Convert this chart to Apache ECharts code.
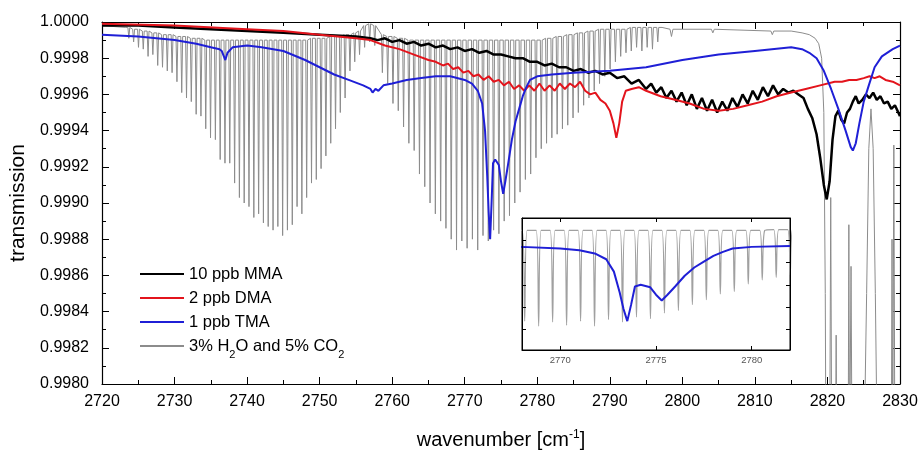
<!DOCTYPE html>
<html>
<head>
<meta charset="utf-8">
<script src="https://cdn.jsdelivr.net/npm/echarts@6/dist/echarts.min.js"></script>
<style>
  html, body { margin: 0; background: #fff; }
  #chart { width: 919px; height: 450px; }
</style>
</head>
<body>
<div id="chart"></div>
<script>
// --- data ---
const mmaX = [2720, 2725, 2730, 2735, 2740, 2745, 2750, 2755, 2757, 2758, 2759, 2760, 2761, 2762, 2763, 2764, 2765, 2766, 2767, 2768, 2769, 2770, 2771, 2772, 2773, 2774, 2775, 2776, 2777, 2778, 2779, 2780, 2781, 2782, 2783, 2784, 2785, 2786, 2787, 2788, 2789, 2790, 2791, 2792, 2793, 2794, 2795, 2795.7, 2796.4, 2797.1, 2797.8, 2798.5, 2799.2, 2799.9, 2800.6, 2801.3, 2802.0, 2802.7, 2803.4, 2804.1, 2804.8, 2805.5, 2806.2, 2806.9, 2807.6, 2808.3, 2809.0, 2809.7, 2810.4, 2811.1, 2811.8, 2812.5, 2813.2, 2813.9, 2814.6, 2815.3, 2816.0, 2816.7, 2817.3, 2817.9, 2818.5, 2819.0, 2819.5, 2819.9, 2820.3, 2820.7, 2821.1, 2821.5, 2821.9, 2822.3, 2822.7, 2823.1, 2823.5, 2823.9, 2824.3, 2824.8, 2825.3, 2825.8, 2826.3, 2826.8, 2827.3, 2827.8, 2828.3, 2828.8, 2829.3, 2830];
const mmaY = [0.99998, 0.99998, 0.99997, 0.99996, 0.99995, 0.99994, 0.99993, 0.99992, 0.99991, 0.99990, 0.99991, 0.99989, 0.99990, 0.99988, 0.99989, 0.99987, 0.99988, 0.99986, 0.99987, 0.99985, 0.99986, 0.99984, 0.99985, 0.99983, 0.99984, 0.99982, 0.99982, 0.99981, 0.99980, 0.99980, 0.99978, 0.99978, 0.99976, 0.99977, 0.99975, 0.99975, 0.99973, 0.99974, 0.99972, 0.99973, 0.99971, 0.99972, 0.99969, 0.99970, 0.99966, 0.99968, 0.99963, 0.99966, 0.99961, 0.99964, 0.99958, 0.99962, 0.99956, 0.99961, 0.99954, 0.99960, 0.99952, 0.99958, 0.99951, 0.99957, 0.99950, 0.99956, 0.99951, 0.99958, 0.99953, 0.99960, 0.99955, 0.99962, 0.99957, 0.99964, 0.99959, 0.99965, 0.99960, 0.99963, 0.99961, 0.99962, 0.99960, 0.99958, 0.99952, 0.99947, 0.99938, 0.99925, 0.99910, 0.99902, 0.99912, 0.99935, 0.99948, 0.99951, 0.99946, 0.99944, 0.99950, 0.99952, 0.99956, 0.99959, 0.99955, 0.99957, 0.99960, 0.99958, 0.99961, 0.99957, 0.99959, 0.99955, 0.99956, 0.99952, 0.99954, 0.99948];

const dmaX = [2720, 2730, 2740, 2745, 2750, 2755, 2757, 2759, 2761, 2763, 2765, 2766, 2767, 2767.7, 2768.4, 2769.1, 2769.8, 2770.5, 2771.2, 2771.9, 2772.6, 2773.3, 2774.0, 2774.7, 2775.4, 2776.1, 2776.8, 2777.5, 2778.2, 2778.9, 2779.6, 2780.3, 2781.0, 2781.7, 2782.4, 2783.1, 2783.8, 2784.5, 2785.2, 2785.9, 2786.6, 2787.3, 2788.0, 2788.7, 2789.4, 2790.0, 2790.5, 2790.9, 2791.3, 2791.7, 2792.2, 2793, 2794, 2795, 2797, 2799, 2801, 2803, 2805, 2807, 2809, 2811, 2813, 2815, 2817, 2819, 2821, 2822, 2823, 2824, 2825, 2825.8, 2826.5, 2827.2, 2828, 2829, 2830];
const dmaY = [0.99999, 0.99998, 0.99996, 0.99995, 0.99993, 0.99991, 0.99990, 0.99987, 0.99985, 0.99982, 0.99979, 0.99978, 0.99976, 0.99977, 0.99974, 0.99975, 0.99972, 0.99973, 0.99970, 0.99971, 0.99968, 0.99970, 0.99967, 0.99968, 0.99965, 0.99967, 0.99963, 0.99965, 0.99962, 0.99965, 0.99962, 0.99966, 0.99962, 0.99965, 0.99962, 0.99966, 0.99963, 0.99966, 0.99964, 0.99967, 0.99962, 0.99960, 0.99961, 0.99957, 0.99955, 0.99951, 0.99944, 0.99936, 0.99944, 0.99956, 0.99962, 0.99963, 0.99964, 0.99962, 0.99959, 0.99957, 0.99955, 0.99952, 0.99951, 0.99952, 0.99954, 0.99956, 0.99959, 0.99961, 0.99963, 0.99965, 0.99967, 0.99967, 0.99968, 0.99968, 0.99969, 0.99970, 0.99969, 0.99970, 0.99968, 0.99967, 0.99965];

const tmaX = [2720, 2725, 2730, 2733, 2735, 2736.2, 2736.5, 2736.7, 2737.0, 2737.3, 2738, 2740, 2742, 2745, 2748, 2750, 2752, 2754, 2756, 2757.0, 2757.3, 2757.7, 2758.1, 2758.8, 2760, 2762, 2764, 2766, 2768, 2770, 2771, 2771.8, 2772.4, 2772.8, 2773.1, 2773.3, 2773.5, 2773.7, 2773.9, 2774.2, 2774.7, 2775.0, 2775.3, 2775.6, 2776.0, 2776.5, 2777.0, 2777.5, 2778.0, 2778.5, 2779.0, 2780, 2782, 2785, 2790, 2795, 2800, 2805, 2810, 2815, 2816.5, 2817.5, 2818.5, 2819.5, 2820.5, 2821.5, 2822.5, 2823.2, 2823.5, 2823.9, 2824.4, 2825, 2825.7, 2826.5, 2827.5, 2829, 2830];
const tmaY = [0.99993, 0.99992, 0.99990, 0.99988, 0.99986, 0.99985, 0.99984, 0.99985, 0.99979, 0.99983, 0.99986, 0.99987, 0.99986, 0.99984, 0.99979, 0.99975, 0.99971, 0.99968, 0.99965, 0.99963, 0.99961, 0.99963, 0.99962, 0.99965, 0.99966, 0.99968, 0.99969, 0.99970, 0.99970, 0.99968, 0.99966, 0.99962, 0.99955, 0.99940, 0.99915, 0.99895, 0.99880, 0.99900, 0.99922, 0.99924, 0.99921, 0.99912, 0.99905, 0.99912, 0.99922, 0.99935, 0.99945, 0.99952, 0.99959, 0.99964, 0.99968, 0.99970, 0.99971, 0.99972, 0.99973, 0.99975, 0.99979, 0.99982, 0.99984, 0.99986, 0.99985, 0.99983, 0.99980, 0.99973, 0.99963, 0.99952, 0.99940, 0.99931, 0.99929, 0.99933, 0.99944, 0.99956, 0.99965, 0.99975, 0.99981, 0.99985, 0.99987];

// H2O / CO2 absorption lines: centre, bottom of the dip, level between lines
const h2oLineCenter = [2723.70, 2724.36, 2725.03, 2725.69, 2726.35, 2727.01, 2727.68, 2728.34, 2729.00, 2729.66, 2730.33, 2730.99, 2731.65, 2732.31, 2732.98, 2733.64, 2734.30, 2734.96, 2735.63, 2736.29, 2736.95, 2737.61, 2738.28, 2738.94, 2739.60, 2740.26, 2740.93, 2741.59, 2742.25, 2742.91, 2743.58, 2744.24, 2744.90, 2745.56, 2746.23, 2746.89, 2747.55, 2748.21, 2748.88, 2749.54, 2750.20, 2750.86, 2751.53, 2752.19, 2752.85, 2753.51, 2754.18, 2754.84, 2755.50,
  2756.20, 2756.90, 2757.60,
  2758.65, 2759.38, 2760.11, 2760.84, 2761.57, 2762.30, 2763.03, 2763.76, 2764.49, 2765.22, 2765.95, 2766.68, 2767.41, 2768.14, 2768.87, 2769.60, 2770.33, 2771.06, 2771.79, 2772.52, 2773.25, 2773.98, 2774.71, 2775.44, 2776.17, 2776.90, 2777.63, 2778.36, 2779.09, 2779.82, 2780.55, 2781.28, 2782.01, 2782.74, 2783.47, 2784.20, 2784.93, 2785.66, 2786.39, 2787.12, 2787.85, 2788.58, 2789.31, 2790.04, 2790.77, 2791.50, 2792.23, 2792.96, 2793.69, 2794.42, 2795.15, 2795.88, 2796.61];
const h2oLineMin = [0.99991, 0.99989, 0.99986, 0.99985, 0.99981, 0.99982, 0.99976, 0.99975, 0.99973, 0.99972, 0.99967, 0.99961, 0.99958, 0.99956, 0.99949, 0.99948, 0.99941, 0.99936, 0.99935, 0.99924, 0.99922, 0.99922, 0.99911, 0.99903, 0.99900, 0.99898, 0.99892, 0.99894, 0.99889, 0.99887, 0.99885, 0.99887, 0.99882, 0.99885, 0.99888, 0.99898, 0.99894, 0.99903, 0.99911, 0.99913, 0.99919, 0.99926, 0.99933, 0.99941, 0.99950, 0.99958, 0.99973, 0.99978, 0.99982,
  0.99986, 0.99989, 0.99987,
  0.99972, 0.99966, 0.99955, 0.99951, 0.99942, 0.99933, 0.99929, 0.99916, 0.99909, 0.99900, 0.99894, 0.99890, 0.99886, 0.99880, 0.99874, 0.99879, 0.99875, 0.99880, 0.99874, 0.99882, 0.99879, 0.99885, 0.99883, 0.99890, 0.99893, 0.99900, 0.99906, 0.99913, 0.99916, 0.99925, 0.99930, 0.99933, 0.99936, 0.99938, 0.99941, 0.99943, 0.99947, 0.99950, 0.99954, 0.99958, 0.99962, 0.99966, 0.99970, 0.99974, 0.99978, 0.99981, 0.99983, 0.99984, 0.99986, 0.99984, 0.99986, 0.99985, 0.99989];
const h2oLineCeil = [0.99997, 0.99996, 0.99996, 0.99995, 0.99995, 0.99994, 0.99994, 0.99993, 0.99993, 0.99993, 0.99992, 0.99992, 0.99992, 0.99991, 0.99991, 0.99991, 0.99990, 0.99990, 0.99990, 0.99990, 0.99990, 0.99990, 0.99990, 0.99990, 0.99990, 0.99990, 0.99990, 0.99990, 0.99990, 0.99990, 0.99990, 0.99990, 0.99990, 0.99990, 0.99990, 0.99990, 0.99990, 0.99990, 0.99991, 0.99991, 0.99991, 0.99991, 0.99992, 0.99992, 0.99992, 0.99993, 0.99993, 0.99994, 0.99995,
  0.99998, 0.99999, 0.99998,
  0.99993, 0.99992, 0.99992, 0.99991, 0.99991, 0.99990, 0.99990, 0.99990, 0.99990, 0.99990, 0.99990, 0.99990, 0.99990, 0.99990, 0.99990, 0.99990, 0.99990, 0.99990, 0.99990, 0.99990, 0.99990, 0.99990, 0.99990, 0.99990, 0.99990, 0.99990, 0.99990, 0.99990, 0.99990, 0.99990, 0.99990, 0.99991, 0.99991, 0.99992, 0.99992, 0.99993, 0.99993, 0.99994, 0.99994, 0.99995, 0.99995, 0.99996, 0.99996, 0.99996, 0.99996, 0.99996, 0.99996, 0.99997, 0.99997, 0.99997, 0.99997, 0.99997, 0.99997];
const h2oHeadX = [2720, 2723.2];
const h2oHeadY = [0.99998, 0.99997];
const h2oTailX = [2797.2, 2798.3, 2798.5, 2798.7, 2804.0, 2804.2, 2804.4, 2812.2, 2812.4, 2812.6, 2815, 2816.5, 2817.5, 2818.3, 2818.8, 2819.2, 2819.5, 2819.7, 2819.8, 2820.3, 2820.45, 2820.6, 2821.1, 2821.2, 2821.3, 2822.85, 2822.95, 2823.05, 2823.25, 2823.4, 2825.0, 2825.4, 2825.7, 2826.0, 2826.3, 2826.6, 2826.9, 2828.8, 2828.9, 2829.0, 2829.15, 2829.3, 2830];
const h2oTailY = [0.99997, 0.99996, 0.99992, 0.99996, 0.99996, 0.99994, 0.99996, 0.99995, 0.99993, 0.99995, 0.99995, 0.99994, 0.99993, 0.99991, 0.99988, 0.99980, 0.99950, 0.99850, 0.99750, 0.99750, 0.99903, 0.99750, 0.99750, 0.99827, 0.99750, 0.99750, 0.99888, 0.99750, 0.99865, 0.99750, 0.99750, 0.99850, 0.99930, 0.99952, 0.99930, 0.99850, 0.99750, 0.99750, 0.99880, 0.99750, 0.99932, 0.99750, 0.99750];

const legendNames = ['10 ppb MMA', '2 ppb DMA', '1 ppb TMA', '3% H2O and 5% CO2'];
const insetXTicks = [2770, 2775, 2780];
const insetYTicks = [0.9987, 0.99897, 0.99924, 0.99951, 0.99978];

// --- build series ---
const FONT = 'Liberation Sans, Arial, sans-serif';
const LINE_HALF = 0.13;
const zip = (xs, ys) => xs.map((x, i) => [x, ys[i]]);

const h2oData = zip(h2oHeadX, h2oHeadY);
h2oLineCenter.forEach((c, i) => {
  h2oData.push([c - LINE_HALF, h2oLineCeil[i]], [c, h2oLineMin[i]], [c + LINE_HALF, h2oLineCeil[i]]);
});
h2oData.push(...zip(h2oTailX, h2oTailY));

const mmaData = zip(mmaX, mmaY);
const dmaData = zip(dmaX, dmaY);
const tmaData = zip(tmaX, tmaY);

const chart = echarts.init(document.getElementById('chart'));

const mainX = {
  type: 'value', min: 2720, max: 2830, interval: 10, gridIndex: 0
};
const mainY = {
  type: 'value', min: 0.998, max: 1.0, interval: 0.0002, gridIndex: 0
};
const frameLine = { show: true, lineStyle: { color: '#000', width: 1.2 } };
const tickIn = { show: true, inside: true, length: 7, lineStyle: { color: '#000', width: 1 } };
const minorIn = { show: true, splitNumber: 2, length: 4, lineStyle: { color: '#000', width: 1 } };

const insetAxisCommon = {
  gridIndex: 1, z: 12,
  axisLine: { show: true, onZero: false, lineStyle: { color: '#000', width: 1 } },
  splitLine: { show: false }
};

const option = {
  animation: false,
  backgroundColor: '#fff',
  textStyle: { fontFamily: FONT },
  grid: [
    { left: 102, right: 19, top: 22, bottom: 66, outerBoundsMode: 'none', containLabel: false },
    { left: 522, right: 129, top: 218, bottom: 100, outerBoundsMode: 'none', containLabel: false,
      show: true, backgroundColor: '#fff', borderColor: '#000', borderWidth: 1, z: 10 }
  ],
  legend: {
    orient: 'vertical', left: 134, top: 260,
    itemWidth: 44, itemHeight: 14, itemGap: 6,
    itemStyle: { opacity: 0 },
    data: legendNames,
    textStyle: {
      fontSize: 16.5, color: '#000', fontFamily: FONT, lineHeight: 18,
      rich: { s: { fontSize: 11, fontFamily: FONT, verticalAlign: 'bottom', lineHeight: 18, padding: [0, 0, -5, 0] } }
    },
    formatter: name => name.replace('H2O', 'H{s|2}O').replace('CO2', 'CO{s|2}')
  },
  xAxis: [
    Object.assign({}, mainX, {
      position: 'bottom',
      axisLine: Object.assign({ onZero: false }, frameLine),
      axisTick: tickIn, minorTick: minorIn, splitLine: { show: false },
      axisLabel: { color: '#000', fontSize: 16, margin: 10, fontFamily: FONT, formatter: v => String(v) },
      name: 'wavenumber [cm{sup|-1}]', nameLocation: 'middle', nameGap: 45,
      nameTextStyle: { color: '#000', fontSize: 20, fontFamily: FONT,
        rich: { sup: { fontSize: 12, fontFamily: FONT, verticalAlign: 'top', padding: [0, 0, 10, 0] } } }
    }),
    Object.assign({}, mainX, {
      position: 'top',
      axisLine: Object.assign({ onZero: false }, frameLine),
      axisTick: tickIn, minorTick: minorIn, splitLine: { show: false },
      axisLabel: { show: false }
    }),
    Object.assign({ type: 'value', min: 2768, max: 2782, position: 'bottom' }, insetAxisCommon, {
      axisTick: { show: true, inside: true, length: 4, customValues: insetXTicks, lineStyle: { color: '#000' } },
      axisLabel: { show: true, customValues: insetXTicks, color: '#555', fontSize: 9.5, margin: 5, fontFamily: FONT, formatter: v => String(v) }
    }),
    Object.assign({ type: 'value', min: 2768, max: 2782, position: 'top' }, insetAxisCommon, {
      axisTick: { show: true, inside: true, length: 4, customValues: insetXTicks, lineStyle: { color: '#000' } },
      axisLabel: { show: false }
    })
  ],
  yAxis: [
    Object.assign({}, mainY, {
      position: 'left',
      axisLine: Object.assign({ onZero: false }, frameLine),
      axisTick: tickIn, minorTick: minorIn, splitLine: { show: false },
      axisLabel: { color: '#000', fontSize: 16, margin: 13, fontFamily: FONT, formatter: v => v.toFixed(4) },
      name: 'transmission', nameLocation: 'middle', nameGap: 73,
      nameTextStyle: { color: '#000', fontSize: 21, fontFamily: FONT }
    }),
    Object.assign({}, mainY, {
      position: 'right',
      axisLine: Object.assign({ onZero: false }, frameLine),
      axisTick: tickIn, minorTick: minorIn, splitLine: { show: false },
      axisLabel: { show: false }
    }),
    Object.assign({ type: 'value', min: 0.99845, max: 1.00005, position: 'left' }, insetAxisCommon, {
      axisTick: { show: true, inside: true, length: 4, customValues: insetYTicks, lineStyle: { color: '#000' } },
      axisLabel: { show: false }
    }),
    Object.assign({ type: 'value', min: 0.99845, max: 1.00005, position: 'right' }, insetAxisCommon, {
      axisTick: { show: true, inside: true, length: 4, customValues: insetYTicks, lineStyle: { color: '#000' } },
      axisLabel: { show: false }
    })
  ],
  series: [
    { name: legendNames[3], type: 'line', xAxisIndex: 0, yAxisIndex: 0, data: h2oData, symbol: 'none', z: 2,
      lineStyle: { color: '#8c8c8c', width: 1 }, itemStyle: { color: '#8c8c8c' } },
    { name: legendNames[0], type: 'line', xAxisIndex: 0, yAxisIndex: 0, data: mmaData, symbol: 'none', z: 3,
      lineStyle: { color: '#000', width: 2.5 }, itemStyle: { color: '#000' } },
    { name: legendNames[1], type: 'line', xAxisIndex: 0, yAxisIndex: 0, data: dmaData, symbol: 'none', z: 4,
      lineStyle: { color: '#e3141c', width: 2 }, itemStyle: { color: '#e3141c' } },
    { name: legendNames[2], type: 'line', xAxisIndex: 0, yAxisIndex: 0, data: tmaData, symbol: 'none', z: 5,
      lineStyle: { color: '#1f1fd6', width: 2 }, itemStyle: { color: '#1f1fd6' } },
    // inset
    { name: 'inset-h2o', type: 'line', xAxisIndex: 2, yAxisIndex: 2, data: h2oData, symbol: 'none', z: 11,
      smooth: 0.3, lineStyle: { color: '#a0a0a0', width: 1.2 } },
    { name: 'inset-tma', type: 'line', xAxisIndex: 2, yAxisIndex: 2, data: tmaData, symbol: 'none', z: 11,
      lineStyle: { color: '#1f1fd6', width: 2 } }
  ]
};

chart.setOption(option);
</script>
</body>
</html>
